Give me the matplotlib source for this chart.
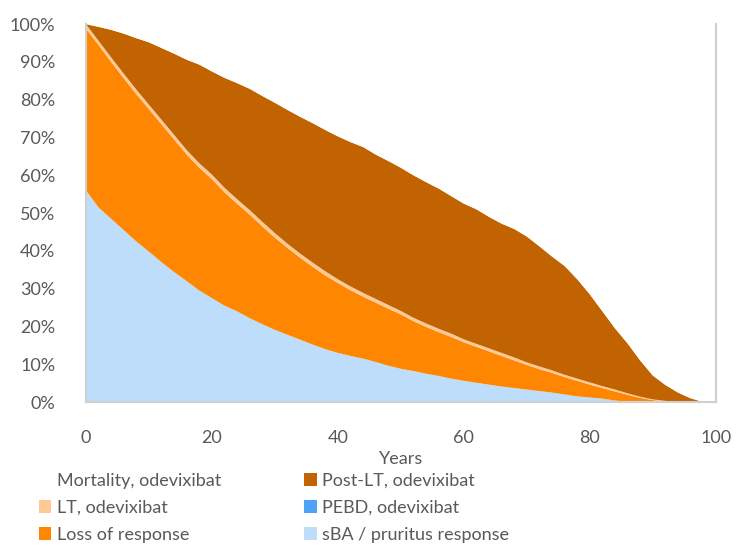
import matplotlib
matplotlib.use("Agg")
import matplotlib.pyplot as plt
from matplotlib.patches import Patch
from matplotlib.ticker import PercentFormatter

plt.rcParams['font.family'] = ['Lato', 'DejaVu Sans']

years = list(range(0, 101, 2))

sba_response = [56, 51.5, 48.5, 45.5, 42.5, 39.8, 37, 34.4, 32, 29.5,
                27.5, 25.5, 24, 22.2, 20.6, 19.1, 17.8, 16.5, 15.2, 14,
                13, 12.2, 11.5, 10.6, 9.6, 8.8, 8.2, 7.5, 6.9, 6.2,
                5.6, 5.1, 4.6, 4.1, 3.7, 3.3, 2.9, 2.5, 2.0, 1.5,
                1.2, 0.9, 0.4, 0.1, 0, 0, 0, 0, 0, 0, 0]
pebd = [0] * 51
loss_of_response = [42.8, 43.0, 41.5, 40.2, 39.0, 37.7, 36.5, 35.1, 33.5, 32.5,
                    31.5, 30.0, 28.5, 27.4, 25.9, 24.4, 23.0, 21.7, 20.6, 19.5,
                    18.5, 17.4, 16.4, 15.7, 15.1, 14.4, 13.2, 12.4, 11.6, 11.0,
                    10.2, 9.5, 8.8, 8.1, 7.3, 6.5, 5.8, 5.2, 4.6, 4.1,
                    3.4, 2.8, 2.4, 1.8, 1.1, 0.5, 0.2, 0, 0, 0, 0]
lt = [1.2, 1.1, 1.2, 1.2, 1.2, 1.2, 1.2, 1.2, 1.2, 1.2,
      1.2, 1.2, 1.2, 1.2, 1.2, 1.2, 1.1, 1.1, 1.1, 1.1,
      1.0, 1.0, 1.0, 1.0, 1.0, 0.9, 0.9, 0.9, 0.9, 0.9,
      0.8, 0.8, 0.8, 0.8, 0.8, 0.7, 0.7, 0.7, 0.6, 0.6,
      0.6, 0.5, 0.5, 0.4, 0.3, 0.2, 0.1, 0, 0, 0, 0]
post_lt = [0, 3.7, 7.3, 10.6, 13.6, 16.5, 19.0, 21.5, 23.9, 26.1,
           27.3, 29.1, 30.7, 32.1, 33.3, 34.5, 35.4, 36.2, 36.9, 37.4,
           37.8, 38.2, 38.6, 38.2, 38.1, 37.9, 37.7, 37.4, 37.1, 36.4,
           35.9, 35.6, 34.8, 34.2, 34.0, 33.3, 31.8, 30.1, 28.8, 26.3,
           23.3, 19.8, 16.2, 13.2, 9.6, 6.3, 4.2, 2.5, 1.0, 0, 0]
mortality = [0, 0.7, 1.5, 2.5, 3.7, 4.8, 6.3, 7.8, 9.4, 10.7,
             12.5, 14.2, 15.6, 17.1, 19, 20.8, 22.7, 24.5, 26.2, 28,
             29.7, 31.2, 32.5, 34.5, 36.2, 38, 40, 41.8, 43.5, 45.5,
             47.5, 49, 51, 52.8, 54.2, 56.2, 58.8, 61.5, 64, 67.5,
             71.5, 76, 80.5, 84.5, 89, 93, 95.5, 97.5, 99, 100, 100]

labels = ["sBA / pruritus response", "PEBD, odevixibat", "Loss of response",
          "LT, odevixibat", "Post-LT, odevixibat", "Mortality, odevixibat"]
colors = ["#BDDDFB", "#4DA3F8", "#FF8600", "#FFC996", "#C06300", "#FFFFFF"]

x_ticks = [0, 20, 40, 60, 80, 100]
y_ticks = [0, 10, 20, 30, 40, 50, 60, 70, 80, 90, 100]

fig = plt.figure(figsize=(7.41, 5.46), dpi=100)
ax = fig.add_axes([0.116, 0.2637, 0.850, 0.692])

series = [sba_response, pebd, loss_of_response, lt, post_lt, mortality]
ax.stackplot(years, *series, colors=colors, labels=labels, linewidth=0)

ax.set_xlim(0, 100)
ax.set_ylim(0, 100)
ax.set_xticks(x_ticks)
ax.set_yticks(y_ticks)
ax.yaxis.set_major_formatter(PercentFormatter(decimals=0))
ax.tick_params(axis='both', length=0, labelsize=13, labelcolor="#595959")
ax.tick_params(axis='y', pad=22)
ax.tick_params(axis='x', pad=20)

for side in ["left", "bottom", "right"]:
    ax.spines[side].set_color("#D0D0D0")
    ax.spines[side].set_linewidth(1.5)
ax.spines["top"].set_visible(False)

ax.set_xlabel("Years", fontsize=13, color="#595959", labelpad=4)

handles = {lab: Patch(facecolor=c, edgecolor="none") for lab, c in zip(labels, colors)}
order = ["Mortality, odevixibat", "LT, odevixibat", "Loss of response",
         "Post-LT, odevixibat", "PEBD, odevixibat", "sBA / pruritus response"]
fig.legend([handles[k] for k in order], order, ncol=2, loc="upper left",
           bbox_to_anchor=(0.052, 0.134), frameon=False, fontsize=13,
           labelcolor="#595959", handlelength=0.7, handleheight=0.7,
           handletextpad=0.3, columnspacing=4.6, labelspacing=0.6,
           borderpad=0, borderaxespad=0)

fig.savefig("out.png", dpi=100)
